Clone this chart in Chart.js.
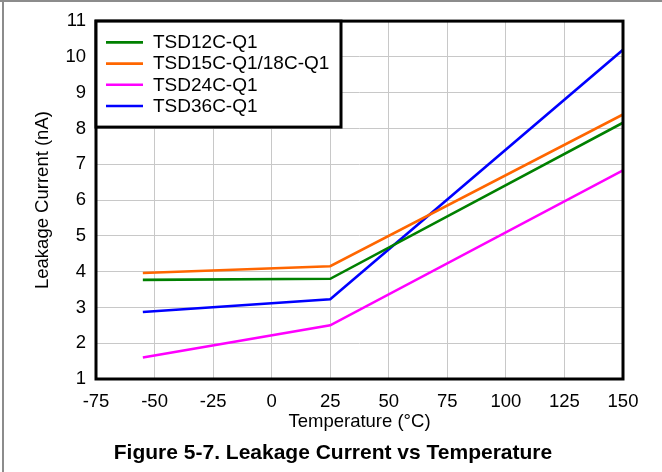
<!DOCTYPE html>
<html><head><meta charset="utf-8">
<script src="https://cdn.jsdelivr.net/npm/chart.js@4.4.0/dist/chart.umd.min.js"></script>
<style>
html,body{margin:0;padding:0;background:#fff;}
#wrap{position:relative;width:662px;height:472px;overflow:hidden;background:#fff;}
canvas{position:absolute;left:0;top:0;}
.frameTop{position:absolute;left:0;top:0;width:662px;height:2px;background:#8c8c8c;}
.frameLeft{position:absolute;left:2px;top:0;width:2px;height:472px;background:#8c8c8c;}
#caption{position:absolute;left:2px;width:662px;top:441px;text-align:center;font:bold 21px "Liberation Sans",Arial,sans-serif;line-height:21px;white-space:nowrap;color:#000;}
</style></head><body>
<div id="wrap"><canvas id="c" width="662" height="472"></canvas>
<div class="frameTop"></div><div class="frameLeft"></div>
<div id="caption">Figure 5-7. Leakage Current vs Temperature</div></div>
<script>
const temperatures = [-55, 25, 150];
const tsd12c = [3.77, 3.80, 8.16];
const tsd15c18c = [3.96, 4.15, 8.39];
const tsd24c = [1.60, 2.50, 6.83];
const tsd36c = [2.87, 3.23, 10.20];
const seriesLabels = ['TSD12C-Q1', 'TSD15C-Q1/18C-Q1', 'TSD24C-Q1', 'TSD36C-Q1'];
const seriesColors = ['#008000', '#ff6600', '#ff00ff', '#0000ff'];
const xTickValues = [-75, -50, -25, 0, 25, 50, 75, 100, 125, 150];
const yTickValues = [1, 2, 3, 4, 5, 6, 7, 8, 9, 10, 11];
const xTitle = 'Temperature (°C)';
const yTitle = 'Leakage Current (nA)';

const FONT = '"Liberation Sans", Arial, sans-serif';
Chart.defaults.font.family = FONT;
Chart.defaults.font.size = 18.5;
Chart.defaults.color = '#000';

const allSeries = [tsd12c, tsd15c18c, tsd24c, tsd36c];
const datasets = allSeries.map((vals, i) => ({
  label: seriesLabels[i],
  data: temperatures.map((t, j) => ({x: t, y: vals[j]})),
  borderColor: seriesColors[i],
  backgroundColor: seriesColors[i],
  borderWidth: 2.6,
  pointRadius: 0,
  fill: false,
  tension: 0
}));

const framePlugin = {
  id: 'frame',
  afterDatasetsDraw(chart) {
    const {ctx, chartArea: a} = chart;
    ctx.save();
    ctx.strokeStyle = '#000';
    ctx.lineWidth = 3;
    ctx.strokeRect(a.left, a.top, a.right - a.left, a.bottom - a.top);
    ctx.restore();
  }
};

const boxLegendPlugin = {
  id: 'boxLegend',
  afterDraw(chart) {
    const {ctx, chartArea: a} = chart;
    const boxW = 245, boxH = 106;
    ctx.save();
    ctx.fillStyle = '#fff';
    ctx.fillRect(a.left, a.top, boxW, boxH);
    ctx.strokeStyle = '#000';
    ctx.lineWidth = 3;
    ctx.strokeRect(a.left, a.top, boxW, boxH);
    ctx.font = '19px ' + FONT;
    ctx.textBaseline = 'middle';
    ctx.textAlign = 'left';
    chart.data.datasets.forEach((ds, i) => {
      const y = a.top + 21.3 + i * 21.2;
      ctx.strokeStyle = ds.borderColor;
      ctx.lineWidth = 2.6;
      ctx.beginPath();
      ctx.moveTo(a.left + 10, y);
      ctx.lineTo(a.left + 47, y);
      ctx.stroke();
      ctx.fillStyle = '#000';
      ctx.fillText(ds.label, a.left + 57, y + 0.5);
    });
    ctx.restore();
  }
};

new Chart(document.getElementById('c'), {
  type: 'line',
  data: {datasets},
  options: {
    responsive: false,
    animation: false,
    devicePixelRatio: 1,
    layout: {padding: {top: 19.5, right: 39, left: 0, bottom: 0}},
    plugins: {legend: {display: false}, tooltip: {enabled: false}},
    scales: {
      x: {
        type: 'linear',
        min: -75, max: 150,
        afterBuildTicks: s => { s.ticks = xTickValues.map(v => ({value: v})); },
        afterFit: s => { s.height = 93; },
        ticks: {padding: 12, font: {size: 18.5}, color: '#000'},
        grid: {color: '#c8c8c8', lineWidth: 1, drawTicks: false},
        border: {display: false},
        title: {display: true, text: xTitle, font: {size: 18.5}, color: '#000', padding: {top: 0, bottom: 39}}
      },
      y: {
        type: 'linear',
        min: 1, max: 11,
        afterBuildTicks: s => { s.ticks = yTickValues.map(v => ({value: v})); },
        afterFit: s => { s.width = 96; },
        ticks: {padding: 10, font: {size: 18.5}, color: '#000'},
        grid: {color: '#c8c8c8', lineWidth: 1, drawTicks: false},
        border: {display: false},
        title: {display: true, text: yTitle, font: {size: 18.5}, color: '#000', padding: {top: 32, bottom: 0}}
      }
    }
  },
  plugins: [framePlugin, boxLegendPlugin]
});
</script>
</body></html>
